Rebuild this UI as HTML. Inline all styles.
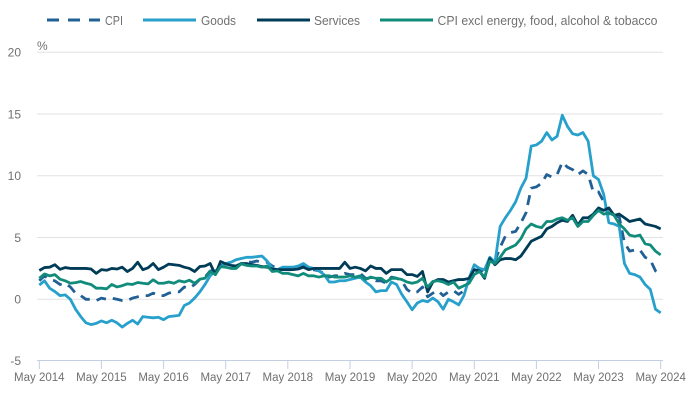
<!DOCTYPE html>
<html><head><meta charset="utf-8">
<style>
html,body{margin:0;padding:0;background:#fff;}
body{width:694px;height:401px;overflow:hidden;}
svg{display:block;}
text{font-family:"Liberation Sans",Arial,sans-serif;fill:#707070;}
</style></head>
<body>
<svg width="694" height="401" viewBox="0 0 694 401" xmlns="http://www.w3.org/2000/svg">
<!-- legend -->
<g stroke-width="3" fill="none">
<line x1="47" y1="20" x2="100" y2="20" stroke="#206095" stroke-dasharray="12 9"/>
<line x1="143" y1="20" x2="196" y2="20" stroke="#27a0cc"/>
<line x1="257" y1="20" x2="310" y2="20" stroke="#003c57"/>
<line x1="380" y1="20" x2="433" y2="20" stroke="#118c7b"/>
</g>
<g font-size="13">
<text x="105" y="25" textLength="18" lengthAdjust="spacingAndGlyphs">CPI</text>
<text x="201" y="25" textLength="35" lengthAdjust="spacingAndGlyphs">Goods</text>
<text x="314" y="25" textLength="46" lengthAdjust="spacingAndGlyphs">Services</text>
<text x="437.5" y="25" textLength="220" lengthAdjust="spacingAndGlyphs">CPI excl energy, food, alcohol &amp; tobacco</text>
</g>
<!-- gridlines -->
<g stroke="#e2e2e2" stroke-width="1">
<line x1="37" y1="52.3" x2="663" y2="52.3"/>
<line x1="37" y1="114.05" x2="663" y2="114.05"/>
<line x1="37" y1="175.8" x2="663" y2="175.8"/>
<line x1="37" y1="237.55" x2="663" y2="237.55"/>
<line x1="37" y1="299.3" x2="663" y2="299.3"/>
</g>
<line x1="37" y1="360.5" x2="663" y2="360.5" stroke="#c3cfe0" stroke-width="1"/>
<g stroke="#c3cfe0" stroke-width="1">
<line x1="39.3" y1="360.5" x2="39.3" y2="369"/>
<line x1="101.4" y1="360.5" x2="101.4" y2="369"/>
<line x1="163.6" y1="360.5" x2="163.6" y2="369"/>
<line x1="225.7" y1="360.5" x2="225.7" y2="369"/>
<line x1="287.8" y1="360.5" x2="287.8" y2="369"/>
<line x1="350" y1="360.5" x2="350" y2="369"/>
<line x1="412.1" y1="360.5" x2="412.1" y2="369"/>
<line x1="474.3" y1="360.5" x2="474.3" y2="369"/>
<line x1="536.4" y1="360.5" x2="536.4" y2="369"/>
<line x1="598.5" y1="360.5" x2="598.5" y2="369"/>
<line x1="660.7" y1="360.5" x2="660.7" y2="369"/>
</g>
<!-- y labels -->
<g font-size="12" text-anchor="end">
<text x="21" y="56.5">20</text>
<text x="21" y="118.3">15</text>
<text x="21" y="180">10</text>
<text x="21" y="241.8">5</text>
<text x="21" y="303.5">0</text>
<text x="21" y="365.2">-5</text>
</g>
<text x="37" y="50" font-size="12">%</text>
<!-- x labels -->
<g font-size="11.5" text-anchor="middle">
<text x="39.3" y="381">May 2014</text>
<text x="101.4" y="381">May 2015</text>
<text x="163.6" y="381">May 2016</text>
<text x="225.7" y="381">May 2017</text>
<text x="287.8" y="381">May 2018</text>
<text x="350" y="381">May 2019</text>
<text x="412.1" y="381">May 2020</text>
<text x="474.3" y="381">May 2021</text>
<text x="536.4" y="381">May 2022</text>
<text x="598.5" y="381">May 2023</text>
<text x="660.7" y="381">May 2024</text>
</g>
<!-- CPI dashed (pixel coords) -->
<polyline fill="none" stroke="#206095" stroke-width="2.8" stroke-dasharray="10 7" stroke-linejoin="round"
points="39.3,280.8 44.5,275.8 49.7,279.5 54.8,280.8 60.0,284.5 65.2,283.2 70.4,287.0 75.5,293.1 80.7,295.6 85.9,299.3 91.1,299.3 96.3,300.5 101.4,298.1 106.6,299.3 111.8,298.1 117.0,299.3 122.1,300.5 127.3,300.5 132.5,298.1 137.7,296.8 142.9,295.6 148.0,295.6 153.2,293.1 158.4,295.6 163.6,295.6 168.8,293.1 173.9,291.9 179.1,291.9 184.3,287.0 189.5,288.2 194.6,284.5 199.8,279.5 205.0,277.1 210.2,270.9 215.4,270.9 220.5,266.0 225.7,263.5 230.9,267.2 236.1,267.2 241.2,263.5 246.4,262.2 251.6,262.2 256.8,261.0 261.9,262.2 267.1,262.2 272.3,266.0 277.5,268.4 282.7,269.7 287.8,269.7 293.0,269.7 298.2,268.4 303.4,266.0 308.6,269.7 313.7,269.7 318.9,270.9 324.1,273.4 329.3,277.1 334.4,275.8 339.6,275.8 344.8,273.4 350.0,274.6 355.2,274.6 360.3,273.4 365.5,278.3 370.7,278.3 375.9,280.8 381.0,280.8 386.2,283.2 391.4,277.1 396.6,278.3 401.8,280.8 406.9,289.4 412.1,293.1 417.3,291.9 422.5,287.0 427.7,296.8 432.8,293.1 438.0,290.7 443.2,295.6 448.4,291.9 453.5,290.7 458.7,294.4 463.9,290.7 469.1,280.8 474.3,273.4 479.4,268.4 484.6,274.6 489.8,259.8 495.0,261.0 500.1,247.4 505.3,236.3 510.5,232.6 515.7,231.4 520.9,222.7 526.0,212.9 531.2,188.2 536.4,186.9 541.6,183.2 546.7,174.6 551.9,177.0 557.1,174.6 562.3,162.2 567.5,167.2 572.6,169.6 577.8,174.6 583.0,170.9 588.2,174.6 593.3,191.9 598.5,191.9 603.7,201.7 608.9,215.3 614.1,216.6 619.2,216.6 624.4,242.5 629.6,251.1 634.8,249.9 639.9,249.9 645.1,257.3 650.3,259.8 655.5,270.9 660.7,274.6"/>
<!-- solid series in data coords -->
<g transform="translate(39.3 299.3) scale(5.178 -12.35)" fill="none" stroke-linejoin="round">
<polyline vector-effect="non-scaling-stroke" stroke="#27a0cc" stroke-width="2.8"
points="0,1.15 1,1.5 2,0.9 3,0.63 4,0.3 5,0.36 6,0 7,-0.8 8,-1.4 9,-1.9 10,-2.05 11,-1.95 12,-1.75 13,-1.9 14,-1.7 15,-1.9 16,-2.25 17,-1.95 18,-1.7 19,-2 20,-1.4 21,-1.45 22,-1.5 23,-1.45 24,-1.65 25,-1.4 26,-1.35 27,-1.3 28,-0.5 29,-0.3 30,0.1 31,0.6 32,1.2 33,1.9 34,2.3 35,2.6 36,2.9 37,3 38,3.2 39,3.3 40,3.4 41,3.4 42,3.45 43,3.5 44,3.1 45,2.5 46,2.4 47,2.6 48,2.6 49,2.6 50,2.7 51,2.9 52,2.6 53,2.5 54,2.3 55,2 56,1.4 57,1.4 58,1.5 59,1.5 60,1.6 61,1.7 62,1.8 63,1.4 64,1.1 65,0.6 66,0.7 67,0.7 68,1.4 69,1.2 70,0.4 71,-0.2 72,-0.85 73,-0.3 74,-0.1 75,-0.2 76,0.1 77,-0.2 78,-0.8 79,0 80,-0.2 81,-0.45 82,0.3 83,1.7 84,2.8 85,2.5 86,2.4 87,3.4 88,3 89,5.9 90,6.6 91,7.2 92,7.9 93,9 94,9.8 95,12.4 96,12.5 97,12.8 98,13.5 99,12.9 100,13.2 101,14.9 102,14 103,13.4 104,13.3 105,13.5 106,12.8 107,10 108,9.7 109,8.5 110,6.2 111,6.1 112,5.9 113,2.9 114,2.1 115,2 116,1.8 117,1.2 118,0.8 119,-0.8 120,-1.1"/>
<polyline vector-effect="non-scaling-stroke" stroke="#003c57" stroke-width="2.8"
points="0,2.33 1,2.57 2,2.6 3,2.8 4,2.43 5,2.57 6,2.5 7,2.5 8,2.5 9,2.5 10,2.45 11,2.1 12,2.4 13,2.35 14,2.5 15,2.45 16,2.6 17,2.25 18,2.5 19,3 20,2.4 21,2.55 22,2.9 23,2.4 24,2.6 25,2.85 26,2.8 27,2.75 28,2.6 29,2.5 30,2.25 31,2.65 32,2.7 33,2.9 34,2 35,3.06 36,2.87 37,2.75 38,2.7 39,2.9 40,2.9 41,2.8 42,2.75 43,2.65 44,2.6 45,2.45 46,2.4 47,2.4 48,2.4 49,2.4 50,2.45 51,2.6 52,2.4 53,2.5 54,2.5 55,2.5 56,2.5 57,2.5 58,2.5 59,3 60,2.5 61,2.6 62,2.5 63,2.3 64,2.7 65,2.5 66,2.5 67,2.1 68,2.4 69,2.4 70,2.4 71,2 72,2 73,1.85 74,2.25 75,0.6 76,1.4 77,1.6 78,1.6 79,1.4 80,1.5 81,1.6 82,1.6 83,1.7 84,2.4 85,2.3 86,1.7 87,3.3 88,2.8 89,3.2 90,3.3 91,3.3 92,3.2 93,3.5 94,4.1 95,4.7 96,4.9 97,5.1 98,5.7 99,5.9 100,6.2 101,6.4 102,6.3 103,6.8 104,6 105,6.6 106,6.6 107,6.9 108,7.4 109,7.2 110,7.4 111,6.8 112,6.9 113,6.6 114,6.3 115,6.4 116,6.5 117,6.1 118,6 119,5.9 120,5.7"/>
<polyline vector-effect="non-scaling-stroke" stroke="#118c7b" stroke-width="2.8"
points="0,1.7 1,2.05 2,1.9 3,2 4,1.63 5,1.5 6,1.3 7,1.35 8,1.44 9,1.3 10,1.2 11,0.9 12,0.9 13,0.85 14,1.2 15,1 16,1.1 17,1.25 18,1.2 19,1.36 20,1.3 21,1.25 22,1.58 23,1.3 24,1.3 25,1.4 26,1.3 27,1.5 28,1.4 29,1.55 30,1.3 31,1.63 32,1.7 33,2.25 34,2 35,2.65 36,2.6 37,2.5 38,2.5 39,2.87 40,2.75 41,2.7 42,2.7 43,2.6 44,2.7 45,2.25 46,2.3 47,2.1 48,2.1 49,2 50,1.9 51,2.1 52,1.9 53,1.9 54,1.8 55,1.9 56,1.9 57,1.8 58,1.8 59,1.8 60,1.9 61,1.8 62,1.9 63,1.6 64,1.8 65,1.7 66,1.7 67,1.4 68,1.7 69,1.7 70,1.6 71,1.4 72,1.3 73,1.4 74,1.7 75,1 76,1.45 77,1.5 78,1.4 79,1.2 80,1.4 81,0.9 82,1.1 83,1.3 84,2 85,2.25 86,1.8 87,3.1 88,2.9 89,3.4 90,4 91,4.2 92,4.4 93,4.9 94,5.7 95,6.1 96,5.9 97,5.8 98,6.3 99,6.3 100,6.5 101,6.6 102,6.4 103,6.6 104,5.9 105,6.3 106,6.3 107,6.8 108,7.2 109,6.9 110,7 111,6.8 112,6.1 113,5.7 114,5.2 115,5.1 116,5.2 117,4.5 118,4.4 119,3.9 120,3.6"/>
</g>
</svg>
</body></html>
